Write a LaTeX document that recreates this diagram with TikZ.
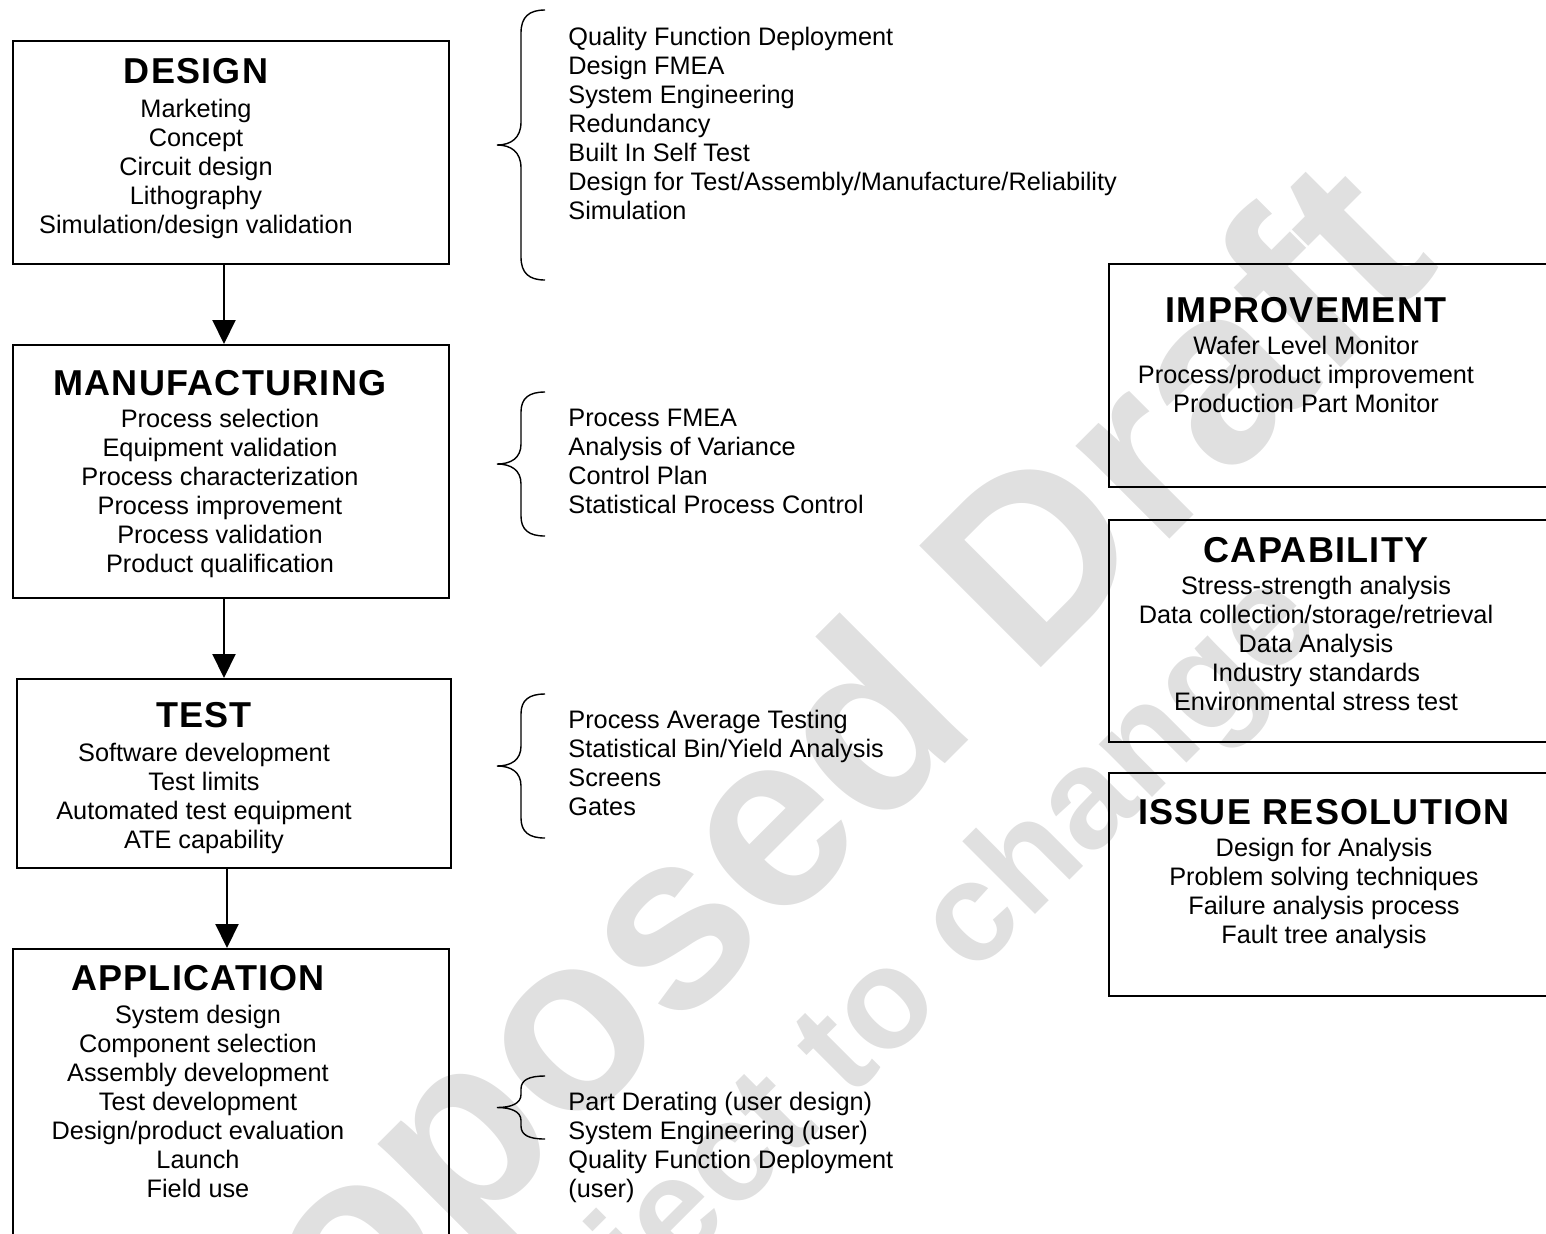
\documentclass[tikz,border=0pt]{standalone}
\usepackage{fontspec}
\setmainfont{Liberation Sans}
\newfontfamily\ttlfont{Liberation Sans}[LetterSpace=3.5]
\usetikzlibrary{arrows.meta,fit}

\tikzset{
  box/.style={draw,line width=1pt,inner sep=0pt},
  ttl/.style={font=\fontsize{18}{20}\ttlfont\bfseries,inner sep=0pt,anchor=base},
  txt/.style={font=\fontsize{12.65}{14.5}\selectfont,align=center,inner sep=0pt,anchor=north},
  lst/.style={font=\fontsize{12.65}{14.5}\selectfont,align=left,inner sep=0pt,anchor=north west},
  arr/.style={line width=1pt,-{Triangle[length=12pt,width=11.5pt]}},
  brace/.style={line width=0.7pt},
  wmark/.style={text=black!12,inner sep=0pt,anchor=base west,rotate=45}
}
% #1 tip x, #2 top, #3 bottom, #4 curl
\newcommand{\curly}[4]{%
  \draw[brace] (#1+48,#2) .. controls (#1+32,#2) and (#1+24,#2+0.3*#4) .. (#1+24,#2+#4)
    -- (#1+24,{(#2+#3)/2-#4}) .. controls (#1+24,{(#2+#3)/2-0.3*#4}) and (#1+14,{(#2+#3)/2}) .. (#1,{(#2+#3)/2})
    .. controls (#1+14,{(#2+#3)/2}) and (#1+24,{(#2+#3)/2+0.3*#4}) .. (#1+24,{(#2+#3)/2+#4})
    -- (#1+24,#3-#4) .. controls (#1+24,#3-0.3*#4) and (#1+32,#3) .. (#1+48,#3);}

\begin{document}
\begin{tikzpicture}[x=0.5pt,y=-0.5pt]
\useasboundingbox (0,0) rectangle (1546,1233);
\clip (0,0) rectangle (1546,1233);

\node[wmark,font=\fontsize{125}{125}\selectfont\bfseries] (wm1) at (165,1544) {Proposed Draft};
\node[wmark,font=\fontsize{71}{71}\selectfont\bfseries] (wm2) at (470,1480) {subject to change};

\node[box,fit={(13,41) (449,264)}] (design) {};
\node[box,fit={(13,345) (449,598)}] (manuf) {};
\node[box,fit={(17,679) (451,868)}] (test) {};
\node[box,fit={(13,949) (449,1260)}] (appl) {};
\node[box,fit={(1109,264) (1570,487)}] (impr) {};
\node[box,fit={(1109,520) (1570,742)}] (capab) {};
\node[box,fit={(1109,773) (1570,996)}] (issue) {};

\node[ttl] (designttl) at (196,83) {DESIGN};
\node[txt] (designtxt) at (196,99) {Marketing\\Concept\\Circuit design\\Lithography\\Simulation/design validation};
\node[ttl] (manufttl) at (220,395) {MANUFACTURING};
\node[txt] (manuftxt) at (220,409) {Process selection\\Equipment validation\\Process characterization\\Process improvement\\Process validation\\Product qualification};
\node[ttl] (testttl) at (204,727) {TEST};
\node[txt] (testtxt) at (204,743) {Software development\\Test limits\\Automated test equipment\\ATE capability};
\node[ttl] (applttl) at (198,990) {APPLICATION};
\node[txt] (appltxt) at (198,1005) {System design\\Component selection\\Assembly development\\Test development\\Design/product evaluation\\Launch\\Field use};
\node[ttl] (imprttl) at (1306,322) {IMPROVEMENT};
\node[txt] (imprtxt) at (1306,336) {Wafer Level Monitor\\Process/product improvement\\Production Part Monitor};
\node[ttl] (capabttl) at (1316,562) {CAPABILITY};
\node[txt] (capabtxt) at (1316,576) {Stress-strength analysis\\Data collection/storage/retrieval\\Data Analysis\\Industry standards\\Environmental stress test};
\node[ttl] (issuettl) at (1324,824) {ISSUE RESOLUTION};
\node[txt] (issuetxt) at (1324,838) {Design for Analysis\\Problem solving techniques\\Failure analysis process\\Fault tree analysis};

\node[lst] (designlst) at (568,27) {Quality Function Deployment\\Design FMEA\\System Engineering\\Redundancy\\Built In Self Test\\Design for Test/Assembly/Manufacture/Reliability\\Simulation};
\node[lst] (manuflst) at (568,409) {Process FMEA\\Analysis of Variance\\Control Plan\\Statistical Process Control};
\node[lst] (testlst) at (568,710) {Process Average Testing\\Statistical Bin/Yield Analysis\\Screens\\Gates};
\node[lst] (appllst) at (568,1092) {Part Derating (user design)\\System Engineering (user)\\Quality Function Deployment\\(user)};

\curly{497}{10}{280}{23}
\curly{497}{392}{536}{20}
\curly{497}{694}{838}{20}
\curly{497}{1076}{1139}{13}

\draw[arr] ([xshift=-3.5pt]design.south) -- ([xshift=-3.5pt]design.south |- manuf.north);
\draw[arr] ([xshift=-3.5pt]manuf.south) -- ([xshift=-3.5pt]manuf.south |- test.north);
\draw[arr] ([xshift=-3.5pt]test.south) -- ([xshift=-3.5pt]test.south |- appl.north);
\end{tikzpicture}
\end{document}
